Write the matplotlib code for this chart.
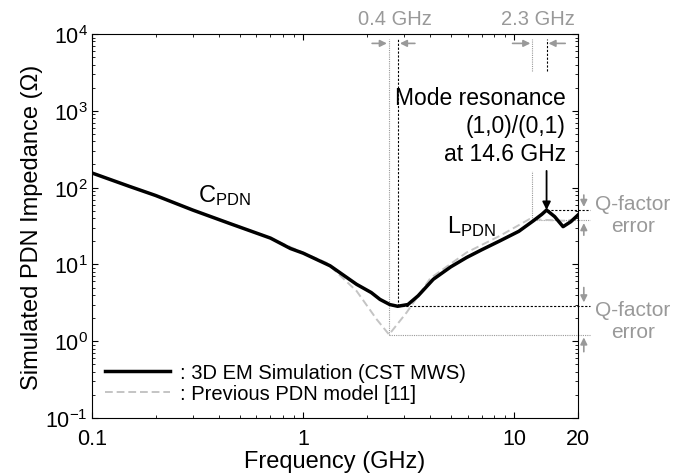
import matplotlib
matplotlib.use('Agg')
import matplotlib.pyplot as plt
from matplotlib.ticker import FixedLocator, FixedFormatter, LogLocator, NullFormatter

plt.rcParams['font.family'] = ['Liberation Sans', 'DejaVu Sans']
plt.rcParams['mathtext.fontset'] = 'custom'
plt.rcParams['mathtext.rm'] = 'Liberation Sans'
plt.rcParams['mathtext.it'] = 'Liberation Sans'
plt.rcParams['font.size'] = 15.5

# 3D EM simulation (CST MWS)
em_freq = [0.1, 0.15, 0.2, 0.3, 0.45, 0.7, 0.87, 1.0, 1.34, 1.79, 2.1, 2.31, 2.57, 2.8,
           3.13, 3.5, 4.13, 5.0, 5.94, 7.0, 8.55, 10.5, 12.3, 13.5, 14.2, 15.5, 17.0, 18.5, 20.0]
em_z = [155, 104, 79, 51, 34, 22, 16.1, 14, 9.6, 5.5, 4.3, 3.5, 3.0, 2.85,
        3.0, 3.9, 6.4, 9.3, 12.3, 15.5, 20.3, 27, 37, 45, 51, 42, 31, 36, 44]

# previous PDN model [11]
pm_freq = [0.1, 0.2, 0.3, 0.5, 0.7, 1.0, 1.29, 1.79, 2.23, 2.55, 3.09, 4.0, 5.94, 8.55,
           11.8, 14.0, 17.0, 20.0]
pm_z = [155, 79, 51, 31, 22, 14.2, 10.5, 4.5, 1.92, 1.22, 2.37, 6.6, 14.3, 23.6,
        39, 38, 37, 39]

# markers: (low-freq resonance, mode resonance)
f_min_em, z_min_em = 2.8, 2.85
f_min_pm, z_min_pm = 2.55, 1.22
f_pk_em, z_pk_em = 14.2, 51
f_pk_pm, z_pk_pm = 12.1, 38

GRAY = '#999999'
LGRAY = '#c4c4c4'

fig = plt.figure(figsize=(6.84, 4.77), dpi=100)
ax = fig.add_axes([0.1345, 0.1216, 0.7105, 0.805])

ax.plot(pm_freq, pm_z, color=LGRAY, lw=1.4, ls=(0, (4, 2)), label=': Previous PDN model [11]', zorder=3)
ax.plot(em_freq, em_z, color='k', lw=2.5, label=': 3D EM Simulation (CST MWS)', zorder=4)

ax.set_xscale('log')
ax.set_yscale('log')
ax.set_xlim(0.1, 20)
ax.set_ylim(0.1, 1e4)

ax.xaxis.set_major_locator(FixedLocator([0.1, 1, 10, 20]))
ax.xaxis.set_major_formatter(FixedFormatter(['0.1', '1', '10', '20']))
ax.xaxis.set_minor_locator(LogLocator(base=10, subs=range(2, 10), numticks=20))
ax.xaxis.set_minor_formatter(NullFormatter())
ax.yaxis.set_minor_locator(LogLocator(base=10, subs=range(2, 10), numticks=20))
ax.tick_params(which='both', direction='in', top=True, right=True)
ax.tick_params(which='major', length=4, pad=3)
ax.tick_params(which='minor', length=2)
ax.tick_params(axis='x', which='major', pad=7)

ax.set_xlabel('Frequency (GHz)', fontsize=17, labelpad=1)
ax.set_ylabel('Simulated PDN Impedance (Ω)', fontsize=17, labelpad=2)

y_top = 8700
y_arr = 7550
# low-frequency resonance shift (0.4 GHz)
ax.plot([f_min_pm, f_min_pm], [z_min_pm, y_top], color=GRAY, lw=0.8, ls=(0, (1, 1)))
ax.plot([f_min_em, f_min_em], [z_min_em, y_top], color='k', lw=0.8, ls=(0, (2, 1.5)))
# mode resonance shift (2.3 GHz)
ax.plot([f_pk_pm, f_pk_pm], [3300, y_top], color=GRAY, lw=0.8, ls=(0, (1, 1)))
ax.plot([f_pk_pm, f_pk_pm], [z_pk_pm, 165], color=GRAY, lw=0.8, ls=(0, (1, 1)))
ax.plot([f_pk_em, f_pk_em], [3300, y_top], color='k', lw=0.8, ls=(0, (2, 1.5)))

# horizontal Q-factor reference lines
x_end = 22.8
ax.plot([f_min_em, x_end], [z_min_em, z_min_em], color='k', lw=0.8, ls=(0, (2, 1.5)), clip_on=False)
ax.plot([f_min_pm, x_end], [z_min_pm, z_min_pm], color=GRAY, lw=0.8, ls=(0, (1, 1)), clip_on=False)
ax.plot([f_pk_em, x_end], [z_pk_em, z_pk_em], color='k', lw=0.8, ls=(0, (2, 1.5)), clip_on=False)
ax.plot([f_pk_pm, x_end], [z_pk_pm, z_pk_pm], color=GRAY, lw=0.8, ls=(0, (1, 1)), clip_on=False)

arr = dict(arrowstyle='-|>', color=GRAY, lw=1.2, mutation_scale=10, shrinkA=0, shrinkB=0)
for x0, x1 in [(2.12, 2.49), (3.38, 2.87), (9.8, 11.9), (17.4, 14.5)]:
    ax.annotate('', xy=(x1, y_arr), xytext=(x0, y_arr), arrowprops=arr)

xa = ('axes fraction', 'data')
for y0, y1 in [(80, 56), (24, 34.5), (5.0, 3.2), (0.73, 1.12)]:
    ax.annotate('', xy=(1.012, y1), xytext=(1.012, y0), xycoords=xa, textcoords=xa,
                arrowprops=arr, annotation_clip=False)

ax.text(1.113, 44, 'Q-factor\nerror', color=GRAY, fontsize=15, ha='center', va='center',
        transform=ax.get_yaxis_transform(), linespacing=1.2)
ax.text(1.113, 1.86, 'Q-factor\nerror', color=GRAY, fontsize=15, ha='center', va='center',
        transform=ax.get_yaxis_transform(), linespacing=1.2)

xt = ax.get_xaxis_transform()
ax.text(2.72, 1.026, '0.4 GHz', color=GRAY, fontsize=14.5, ha='center', va='baseline', transform=xt)
ax.text(12.9, 1.026, '2.3 GHz', color=GRAY, fontsize=14.5, ha='center', va='baseline', transform=xt)

ax.text(17.5, 2135, 'Mode resonance\n(1,0)/(0,1)\nat 14.6 GHz', fontsize=16.5, ha='right',
        va='top', linespacing=1.3)
ax.annotate('', xy=(f_pk_em, z_pk_em), xytext=(f_pk_em, 165),
            arrowprops=dict(arrowstyle='-|>', color='k', lw=1.3, mutation_scale=12, shrinkA=0, shrinkB=0))

ax.text(0.318, 67, r'C$_{\mathregular{PDN}}$', fontsize=17, va='baseline')
ax.text(4.78, 26.1, r'L$_{\mathregular{PDN}}$', fontsize=17, va='baseline')

handles, labels = ax.get_legend_handles_labels()
ax.legend(handles[::-1], labels[::-1], loc='lower left', bbox_to_anchor=(0.027, 0.038), frameon=False,
          fontsize=14.5, handlelength=3.2, handletextpad=0.5, labelspacing=0.1,
          borderpad=0, borderaxespad=0)

fig.savefig('out.png', dpi=100)
